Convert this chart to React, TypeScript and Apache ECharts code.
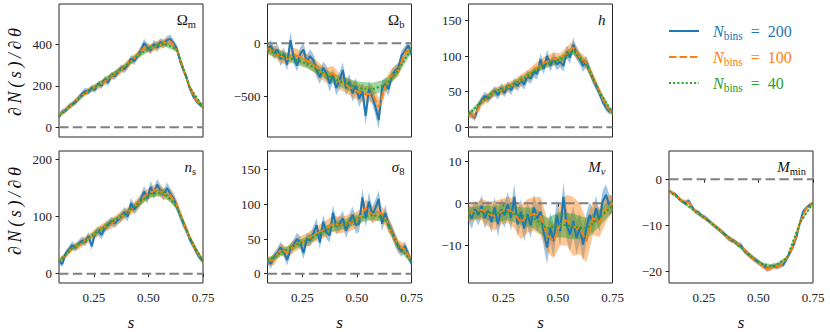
import React, { useEffect, useRef } from 'react';
import * as echarts from 'echarts';

// ---- x grids (s values) ----
const S200 = [0.09,0.105,0.12,0.135,0.15,0.165,0.18,0.195,0.21,0.225,0.24,0.255,0.27,0.285,0.3,0.315,0.33,0.345,0.36,0.375,0.39,0.405,0.42,0.435,0.45,0.465,0.48,0.495,0.51,0.525,0.54,0.555,0.57,0.585,0.6,0.615,0.63,0.645,0.66,0.675,0.69,0.705,0.72,0.735,0.75];
const S100 = [0.09,0.12,0.15,0.18,0.21,0.24,0.27,0.3,0.33,0.36,0.39,0.42,0.45,0.48,0.51,0.54,0.57,0.6,0.63,0.66,0.69,0.72,0.75];
const S40 = [0.09,0.15,0.21,0.27,0.33,0.39,0.45,0.51,0.57,0.63,0.69,0.75];
const X_TICKS = [0.25, 0.5, 0.75];

// ---- Omega_m ----
const OM_200 = [50,75,80,100,110,120,140,160,175,170,190,180,210,200,230,215,250,245,265,285,280,300,330,320,345,370,405,385,370,400,385,410,400,420,425,405,380,320,275,240,185,150,125,110,96];
const OM_200_E = [12,14,12,14,12,14,16,14,15,14,16,14,15,16,18,16,18,16,18,17,18,20,18,20,18,20,22,20,18,20,22,20,18,20,22,18,16,18,15,14,12,12,10,10,9];
const OM_100 = [55,85,110,140,165,185,200,220,245,265,290,320,345,385,380,395,405,415,375,280,190,128,98];
const OM_100_E = [12,14,14,15,16,16,18,18,18,18,20,20,20,22,22,22,22,20,18,16,14,12,10];
const OM_40 = [55,110,165,205,250,290,345,385,405,375,190,98];
const OM_40_E = [8,10,10,12,12,12,14,14,14,12,10,8];

// ---- Omega_b ----
const OB_200 = [-60,-20,-90,-60,-150,-100,-200,30,-130,-210,-100,-60,-170,-120,-160,-250,-320,-230,-280,-380,-300,-420,-350,-250,-420,-360,-470,-400,-520,-450,-680,-430,-500,-600,-720,-420,-380,-430,-300,-260,-230,-110,-70,-20,-100];
const OB_200_E = [60,50,60,55,65,60,60,80,60,55,65,60,60,65,60,70,65,60,70,80,60,70,80,70,75,70,80,75,80,75,90,80,70,80,90,70,60,65,55,55,50,45,45,40,45];
const OB_100 = [-50,-80,-120,-150,-100,-130,-160,-200,-260,-300,-280,-360,-390,-430,-460,-480,-470,-600,-400,-300,-250,-90,-50];
const OB_100_E = [50,55,60,60,60,65,60,65,70,70,70,75,75,75,80,80,80,85,70,65,60,50,45];
const OB_40 = [-60,-110,-150,-190,-260,-330,-380,-420,-430,-390,-250,-50];
const OB_40_E = [35,40,40,45,45,50,55,60,60,50,40,35];

// ---- h ----
const H_200 = [20,17,14,30,38,44,40,46,51,45,55,48,58,52,62,58,66,60,72,68,78,75,95,82,100,86,97,88,92,86,106,98,116,104,96,86,92,80,68,58,48,36,28,22,24];
const H_200_E = [5,5,5,6,6,6,6,6,7,6,7,6,7,7,7,7,8,7,8,7,8,8,9,8,9,8,9,8,8,8,9,9,10,9,8,8,8,7,7,6,6,5,5,4,4];
const H_100 = [18,16,36,42,50,52,56,60,66,72,80,88,92,96,95,104,112,98,90,70,50,30,20];
const H_100_E = [4,5,6,6,6,7,7,7,8,8,8,8,9,9,9,9,9,8,8,7,6,5,4];
const H_40 = [18,36,50,56,66,78,90,95,108,88,50,20];
const H_40_E = [3,4,4,4,5,5,5,5,6,5,4,3];

// ---- n_s ----
const NS_200 = [22,17,35,42,50,45,52,58,55,66,48,70,75,68,80,86,92,88,94,100,108,100,124,112,120,130,144,132,152,140,156,146,138,150,140,132,118,102,88,76,60,50,38,28,22];
const NS_200_E = [5,6,6,6,7,6,7,7,7,7,7,7,8,8,8,8,8,8,8,9,9,9,9,9,9,9,10,10,10,10,10,10,10,10,10,9,9,8,8,7,7,6,6,5,5];
const NS_100 = [22,32,45,50,58,65,75,82,88,96,104,112,122,135,142,148,140,138,120,90,62,40,22];
const NS_100_E = [5,6,6,7,7,8,8,8,9,9,9,9,10,10,10,10,10,10,9,8,7,6,5];
const NS_40 = [22,45,58,75,90,104,122,140,142,118,62,22];
const NS_40_E = [3,4,4,5,5,5,6,6,6,5,4,3];

// ---- sigma_8 ----
const S8_200 = [20,14,24,30,38,32,20,35,42,50,45,30,50,48,58,70,45,75,60,55,88,68,72,80,62,75,85,70,72,110,80,104,85,95,108,72,88,70,62,48,38,32,40,28,15];
const S8_200_E = [6,7,7,7,8,8,8,8,8,9,9,9,9,9,10,10,10,10,10,10,11,11,11,11,11,11,12,12,12,13,13,13,12,12,12,11,11,10,9,9,8,8,7,7,6];
const S8_100 = [18,20,35,30,40,45,48,55,60,65,72,70,72,75,80,95,85,90,80,60,40,35,18];
const S8_100_E = [6,7,8,8,9,9,10,10,11,12,12,12,12,12,12,12,12,12,11,10,9,8,6];
const S8_40 = [18,30,40,48,58,68,72,80,85,80,40,18];
const S8_40_E = [4,5,5,6,6,7,7,7,7,6,5,4];

// ---- M_nu ----
const MNU_200 = [-2.3,-3.6,-1.4,-2.8,-0.6,-3.5,-1.8,-4.5,-1.0,-5.0,-1.5,-2.8,-0.3,-3.5,1.5,-5.0,-2.0,-6.0,-2.6,-5.2,-1.0,-3.6,-2.0,-7.0,-10.5,-5.8,-9.0,-2.8,-6.6,1.5,-5.0,-7.4,-4.2,-8.2,-5.8,-9.8,-6.0,-2.8,-4.4,-1.2,-4.3,0.5,2.0,-0.4,-0.2];
const MNU_200_E = [2,2.5,2,2.5,2.5,2.5,2.5,2.5,2.5,3,2.5,3,3,3,3,3,3,3,3,3,3,3,3,3.5,4,3.5,4,3.5,3.5,3.5,3.5,4,3.5,4,3.5,4,3.5,3,3,3,2.5,2.5,2.5,2.5,2];
const MNU_100 = [-2.5,-2.0,-1.5,-2.5,-3.0,-2.0,-1.5,-2.5,-4.5,-3.0,-2.5,-3.0,-7.5,-9.0,-5.0,-4.0,-5.5,-6.0,-9.0,-3.5,-4.5,-1.5,0.0];
const MNU_100_E = [2,2,2.5,3,3.5,3,3,3.5,4,4,4,4.5,4,4,5,6,7,6,5,4,3.5,3,2];
const MNU_40 = [-2.5,-2.0,-2.5,-2.0,-3.0,-3.5,-6.0,-5.0,-5.5,-6.0,-3.5,-0.5];
const MNU_40_E = [1.5,1.5,2,2,2,2.5,2.5,3,3,2.5,2,1.5];

// ---- M_min ----
const MMIN_200 = [-2.5,-3.0,-3.3,-4.2,-4.8,-5.2,-4.7,-6.0,-7.0,-7.2,-8.0,-8.3,-9.0,-9.6,-10.2,-10.8,-11.4,-12.0,-12.8,-13.3,-13.5,-14.2,-14.4,-15.6,-16.2,-16.8,-17.4,-17.9,-18.4,-18.9,-19.5,-19.3,-18.8,-19.1,-18.7,-18.6,-17.3,-16.0,-14.5,-12.5,-9.5,-7.0,-6.2,-5.6,-5.2];
const MMIN_200_E = [0.4,0.4,0.4,0.45,0.45,0.5,0.5,0.5,0.5,0.5,0.5,0.5,0.5,0.5,0.5,0.5,0.55,0.55,0.55,0.55,0.55,0.6,0.6,0.6,0.6,0.6,0.6,0.6,0.6,0.6,0.6,0.6,0.6,0.6,0.6,0.55,0.55,0.5,0.5,0.5,0.45,0.45,0.4,0.4,0.4];
const MMIN_100 = [-2.5,-3.4,-4.8,-5.0,-7.0,-8.0,-9.0,-10.2,-11.4,-12.8,-13.6,-14.6,-16.2,-17.4,-18.5,-19.6,-19.0,-18.8,-17.2,-14.5,-9.5,-6.2,-5.2];
const MMIN_100_E = [0.4,0.4,0.45,0.5,0.5,0.5,0.5,0.5,0.55,0.55,0.55,0.6,0.6,0.6,0.6,0.6,0.6,0.6,0.55,0.5,0.45,0.4,0.4];
const MMIN_40 = [-2.5,-4.8,-7.0,-9.0,-11.4,-13.6,-16.2,-18.4,-19.0,-17.2,-9.5,-5.2];
const MMIN_40_E = [0.25,0.3,0.3,0.3,0.35,0.35,0.4,0.4,0.4,0.35,0.3,0.25];

const LEGEND_LABELS = ['200', '100', '40'];

const BLUE = '#1f77b4';
const ORANGE = '#ff7f0e';
const GREEN = '#2ca02c';
const BANDS = ['rgba(31,119,180,0.42)', 'rgba(255,127,14,0.45)', 'rgba(44,160,44,0.45)'];
const FONT = '"Liberation Serif", "DejaVu Serif", serif';
const FRAME = '#262626';

const PW = 144;
const ROW_TOP = [4, 151];
const ROW_H = [133, 132];
const COL_LEFT = [59, 267.5, 468.5, 669];

const PANELS = [
  { title: '{r|Ω}{sr|m}', row: 0, col: 0, min: -47, max: 594, ticks: [0, 200, 400], b: OM_200, be: OM_200_E, o: OM_100, oe: OM_100_E, g: OM_40, ge: OM_40_E },
  { title: '{r|Ω}{sr|b}', row: 0, col: 1, min: -879, max: 369, ticks: [-500, 0], b: OB_200, be: OB_200_E, o: OB_100, oe: OB_100_E, g: OB_40, ge: OB_40_E },
  { title: '{i|h}', row: 0, col: 2, min: -13.6, max: 173, ticks: [0, 50, 100, 150], b: H_200, be: H_200_E, o: H_100, oe: H_100_E, g: H_40, ge: H_40_E },
  { title: '{i|n}{sr|s}', row: 1, col: 0, min: -16.3, max: 215, ticks: [0, 100, 200], b: NS_200, be: NS_200_E, o: NS_100, oe: NS_100_E, g: NS_40, ge: NS_40_E },
  { title: '{i|σ}{sr|8}', row: 1, col: 1, min: -13.4, max: 177, ticks: [0, 50, 100, 150], b: S8_200, be: S8_200_E, o: S8_100, oe: S8_100_E, g: S8_40, ge: S8_40_E },
  { title: '{i|M}{si|ν}', row: 1, col: 2, min: -18.9, max: 12.4, ticks: [-10, 0, 10], b: MNU_200, be: MNU_200_E, o: MNU_100, oe: MNU_100_E, g: MNU_40, ge: MNU_40_E },
  { title: '{i|M}{sr|min}', row: 1, col: 3, min: -22.6, max: 6.15, ticks: [-20, -10, 0], b: MMIN_200, be: MMIN_200_E, o: MMIN_100, oe: MMIN_100_E, g: MMIN_40, ge: MMIN_40_E },
];

function makeRich(size: number, subSize: number, color: string) {
  return {
    r: { fontFamily: FONT, fontSize: size, color },
    i: { fontFamily: FONT, fontSize: size, fontStyle: 'italic', color },
    sr: { fontFamily: FONT, fontSize: subSize, padding: [9, 0, 0, 0], color },
    si: { fontFamily: FONT, fontSize: subSize, fontStyle: 'italic', padding: [9, 0, 0, 0], color },
  };
}

const fmt = (v: number) => (v < 0 ? '\u2212' + Math.abs(v) : String(v));

function band(i: number, xs: number[], ys: number[], es: number[], fill: string) {
  return {
    type: 'custom',
    xAxisIndex: i,
    yAxisIndex: i,
    silent: true,
    clip: true,
    data: [[xs[0], ys[0]]],
    renderItem: (params: any, api: any) => {
      if (params.dataIndex !== 0) return null;
      const pts: number[][] = [];
      for (let k = 0; k < xs.length; k++) pts.push(api.coord([xs[k], ys[k] + es[k]]));
      for (let k = xs.length - 1; k >= 0; k--) pts.push(api.coord([xs[k], ys[k] - es[k]]));
      return { type: 'polygon', shape: { points: pts }, style: { fill } };
    },
  };
}

function line(i: number, xs: number[], ys: number[], color: string, type: any) {
  return {
    type: 'line',
    xAxisIndex: i,
    yAxisIndex: i,
    silent: true,
    symbol: 'none',
    data: xs.map((x, k) => [x, ys[k]]),
    lineStyle: { color, width: 2, type, cap: 'butt' },
  };
}

function buildOption() {
  const grid: any[] = [];
  const xAxis: any[] = [];
  const yAxis: any[] = [];
  const series: any[] = [];
  const graphic: any[] = [];

  PANELS.forEach((p, i) => {
    const left = COL_LEFT[p.col];
    const top = ROW_TOP[p.row];
    const h = ROW_H[p.row];
    grid.push({ left, top, width: PW, height: h, show: true, borderColor: FRAME, borderWidth: 1, backgroundColor: 'transparent', containLabel: false });
    const bottomRow = p.row === 1;
    xAxis.push({
      type: 'value', gridIndex: i, min: 0.09, max: 0.75,
      splitLine: { show: false },
      axisLine: { show: false },
      axisTick: { show: bottomRow, customValues: X_TICKS, length: 3.5, lineStyle: { color: FRAME, width: 1 } },
      axisLabel: { show: bottomRow, customValues: X_TICKS, formatter: (v: number) => v.toFixed(2), fontFamily: FONT, fontSize: 13, color: '#222', margin: 8 },
    });
    yAxis.push({
      type: 'value', gridIndex: i, min: p.min, max: p.max,
      splitLine: { show: false },
      axisLine: { show: false },
      axisTick: { show: true, customValues: p.ticks, length: 3.5, lineStyle: { color: FRAME, width: 1 } },
      axisLabel: { show: true, customValues: p.ticks, formatter: fmt, fontFamily: FONT, fontSize: 13, color: '#222', margin: 7 },
    });

    series.push({
      type: 'line', xAxisIndex: i, yAxisIndex: i, silent: true, symbol: 'none',
      data: [[0.09, 0], [0.75, 0]],
      lineStyle: { color: '#808080', width: 2, type: [9.5, 4.3] },
    });
    series.push(band(i, S200, p.b, p.be, BANDS[0]));
    series.push(line(i, S200, p.b, BLUE, 'solid'));
    series.push(band(i, S100, p.o, p.oe, BANDS[1]));
    series.push(line(i, S100, p.o, ORANGE, [7.5, 3]));
    series.push(band(i, S40, p.g, p.ge, BANDS[2]));
    series.push(line(i, S40, p.g, GREEN, [2, 2.2]));

    graphic.push({
      type: 'text', x: left + PW - 7, y: top + 16, z: 100,
      style: { text: p.title, align: 'right', verticalAlign: 'middle', fill: '#111', rich: makeRich(15, 10.5, '#111'), font: '15px ' + FONT },
    });
    if (bottomRow) {
      graphic.push({
        type: 'text', x: left + PW / 2, y: 322, z: 100,
        style: { text: 's', align: 'center', verticalAlign: 'middle', fill: '#111', font: 'italic 17px ' + FONT },
      });
    }
  });

  // y labels
  const T = '\u2009';
  const ylab = ['∂', 'N', '(', 's', ')', '/', '∂', 'θ'].join(T);
  [72, 211].forEach((cy) => {
    graphic.push({
      type: 'text', x: 15, y: cy, rotation: Math.PI / 2, z: 100,
      style: { text: ylab, align: 'center', verticalAlign: 'middle', fill: '#111', font: 'italic 18px ' + FONT },
    });
  });

  // legend
  const legColors = [BLUE, ORANGE, GREEN];
  const legDash: any[] = [null, [7.5, 3], [2, 2.2]];
  const legY = [31, 57, 83];
  LEGEND_LABELS.forEach((lab, k) => {
    graphic.push({
      type: 'line', z: 100,
      shape: { x1: 669, y1: legY[k], x2: 699, y2: legY[k] },
      style: { stroke: legColors[k], lineWidth: 2, lineDash: legDash[k], lineCap: 'butt' },
    });
    graphic.push({
      type: 'text', x: 713, y: legY[k], z: 100,
      style: {
        text: '{i|N}{sr|bins}{r|  =  ' + lab + '}',
        align: 'left', verticalAlign: 'middle', fill: legColors[k],
        rich: makeRich(16, 11.5, legColors[k]),
        font: '16px ' + FONT,
      },
    });
  });

  return { animation: false, backgroundColor: '#ffffff', grid, xAxis, yAxis, series, graphic };
}

export default function App() {
  const ref = useRef<HTMLDivElement>(null);
  useEffect(() => {
    if (!ref.current) return;
    const chart = echarts.init(ref.current, undefined, { renderer: 'svg' });
    chart.setOption(buildOption() as any);
    return () => chart.dispose();
  }, []);
  return <div ref={ref} style={{ position: 'absolute', left: 0, top: 0, width: 830, height: 332 }} />;
}
